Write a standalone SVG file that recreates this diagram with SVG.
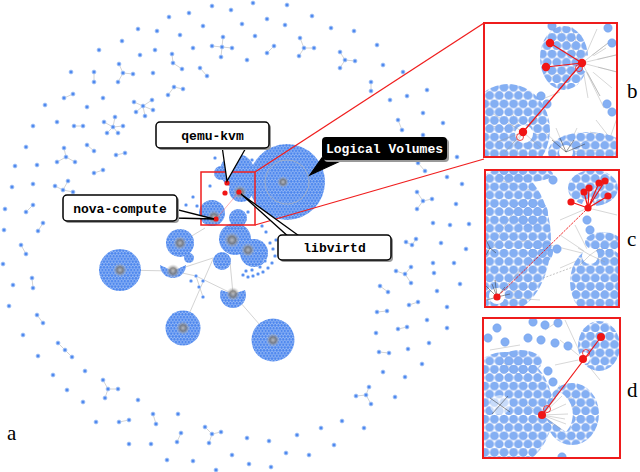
<svg xmlns="http://www.w3.org/2000/svg" width="640" height="472" viewBox="0 0 640 472">
<style>
.n{fill:#4f89ef;stroke:#b3cdf7;stroke-width:0.8}
.e{stroke:#c9c9c9;stroke-width:0.8;fill:none}
.ce{stroke:#d4d4d4;stroke-width:1;fill:none}
.cl{fill:url(#p1)}
.bc{fill:url(#pb)}
.pc{fill:#84aff3;stroke:#6e9ceb;stroke-width:0.5}
.sp{stroke:#9a9a9a;stroke-width:0.4;fill:none}
.dsp{stroke:#333;stroke-width:0.5;fill:none}
.red{fill:#f01616}
.rl{stroke:#f01616;stroke-width:1.2;fill:none}
.lbl{font-family:"Liberation Mono","DejaVu Sans Mono",monospace;font-weight:bold;font-size:13px;text-anchor:middle}
.let{font-family:"Liberation Serif","DejaVu Serif",serif;font-size:21px;fill:#000}
.box{fill:#fff;stroke:#000;stroke-width:1.5}
.shadow{fill:#9a9a9a}
.frame{fill:#fff;stroke:#ee1c1c;stroke-width:2}
</style>
<defs>
<pattern id="p1" patternUnits="userSpaceOnUse" width="3.2" height="5.54">
<rect width="3.2" height="5.54" fill="#a9c6f7"/>
<circle cx="1.6" cy="1.385" r="1.35" fill="#4a85ee"/>
<circle cx="0" cy="4.155" r="1.35" fill="#4a85ee"/>
<circle cx="3.2" cy="4.155" r="1.35" fill="#4a85ee"/>
</pattern>
<pattern id="pb" patternUnits="userSpaceOnUse" width="9.6" height="16.6">
<circle cx="4.8" cy="4.15" r="4.2" fill="#84aff3" stroke="#6e9ceb" stroke-width="0.5"/>
<circle cx="0" cy="12.45" r="4.2" fill="#84aff3" stroke="#6e9ceb" stroke-width="0.5"/>
<circle cx="9.6" cy="12.45" r="4.2" fill="#84aff3" stroke="#6e9ceb" stroke-width="0.5"/>
</pattern>
<radialGradient id="hub">
<stop offset="0" stop-color="#bbb" stop-opacity="0.9"/>
<stop offset="0.45" stop-color="#777" stop-opacity="0.85"/>
<stop offset="1" stop-color="#ccc" stop-opacity="0"/>
</radialGradient>
<clipPath id="cb"><rect x="484" y="23" width="133" height="134"/></clipPath>
<clipPath id="cc"><rect x="485" y="170" width="134" height="137"/></clipPath>
<clipPath id="cd"><rect x="483" y="318" width="137" height="140"/></clipPath>
</defs>
<rect width="640" height="472" fill="#fff"/>

<!-- scattered small components -->
<g id="scatter-edges">
<path class="e" d="M222,47L212,46M222,47L232,48M222,47L221,57M222,47L223,37M274,46L267,53M304,48L300,38M304,48L314,48M304,48L299,56M172,54L173,63L182,69M345,60L340,52M345,60L355,61M345,60L340,68M94,72L94,82M123,73L119,64M123,73L133,74M123,73L118,82M200,68L207,76M371,82L371,91M64,98L73,94M168,95L174,87L183,89M143,106L134,102M143,106L152,100M143,106L153,110M143,106L145,116M143,106L136,112M113,127L104,122M113,127L115,117M113,127L123,126M113,127L107,133M113,127L118,133M74,126L83,126M398,120L402,130M66,157L64,148M66,157L57,162M66,157L75,162M87,145L94,151M116,155L125,153M94,173L103,170M418,163L425,171M63,190L55,186M63,190L68,181M63,190L73,192M423,201L417,192M423,201L432,199M423,201L417,209M33,205L26,212M43,223L38,231"/>
<path class="e" d="M21,245L26,254M32,278L33,288M37,315L43,323M58,343L65,350L72,357M108,389L103,380M108,389L118,389M108,389L105,398M119,422L129,420M153,414L156,424M181,433L177,442M212,434L205,427M212,434L221,432M212,434L209,443M366,395L356,396M366,395L369,387M366,395L371,404M379,352L389,353M398,329L407,327M377,312L387,311M409,305L418,302M380,286L388,292M405,274L396,271M405,274L411,267M405,274L411,283M412,245L406,242M412,245L416,239"/>
</g>
<g id="scatter-nodes">
<circle class="n" cx="212" cy="6" r="2"/><circle class="n" cx="253" cy="3" r="2"/><circle class="n" cx="287" cy="5" r="2"/><circle class="n" cx="189" cy="13" r="2"/><circle class="n" cx="231" cy="10" r="2"/><circle class="n" cx="169" cy="17" r="2"/><circle class="n" cx="267" cy="19" r="2"/><circle class="n" cx="312" cy="16" r="2"/><circle class="n" cx="203" cy="26" r="2"/><circle class="n" cx="242" cy="24" r="2"/><circle class="n" cx="285" cy="25" r="2"/><circle class="n" cx="138" cy="29" r="2"/><circle class="n" cx="157" cy="31" r="2"/><circle class="n" cx="180" cy="35" r="2"/><circle class="n" cx="255" cy="36" r="2"/><circle class="n" cx="331" cy="28" r="2"/><circle class="n" cx="354" cy="31" r="2"/><circle class="n" cx="122" cy="41" r="2"/><circle class="n" cx="193" cy="48" r="2"/>
<circle class="n" cx="222" cy="47" r="2"/><circle class="n" cx="212" cy="46" r="2"/><circle class="n" cx="232" cy="48" r="2"/><circle class="n" cx="221" cy="57" r="2"/><circle class="n" cx="223" cy="37" r="2"/>
<circle class="n" cx="274" cy="46" r="2"/><circle class="n" cx="267" cy="53" r="2"/>
<circle class="n" cx="304" cy="48" r="2"/><circle class="n" cx="300" cy="38" r="2"/><circle class="n" cx="314" cy="48" r="2"/><circle class="n" cx="299" cy="56" r="2"/>
<circle class="n" cx="377" cy="45" r="2"/><circle class="n" cx="99" cy="50" r="2"/><circle class="n" cx="155" cy="50" r="2"/><circle class="n" cx="140" cy="55" r="2"/>
<circle class="n" cx="172" cy="54" r="2"/><circle class="n" cx="173" cy="63" r="2"/><circle class="n" cx="182" cy="69" r="2"/><circle class="n" cx="247" cy="60" r="2"/>
<circle class="n" cx="345" cy="60" r="2"/><circle class="n" cx="340" cy="52" r="2"/><circle class="n" cx="355" cy="61" r="2"/><circle class="n" cx="340" cy="68" r="2"/>
<circle class="n" cx="383" cy="65" r="2"/><circle class="n" cx="71" cy="72" r="2"/><circle class="n" cx="94" cy="72" r="2"/><circle class="n" cx="94" cy="82" r="2"/>
<circle class="n" cx="123" cy="73" r="2"/><circle class="n" cx="119" cy="64" r="2"/><circle class="n" cx="133" cy="74" r="2"/><circle class="n" cx="118" cy="82" r="2"/>
<circle class="n" cx="153" cy="73" r="2"/><circle class="n" cx="200" cy="68" r="2"/><circle class="n" cx="207" cy="76" r="2"/><circle class="n" cx="403" cy="72" r="2"/><circle class="n" cx="371" cy="82" r="2"/><circle class="n" cx="371" cy="91" r="2"/>
<circle class="n" cx="64" cy="98" r="2"/><circle class="n" cx="73" cy="94" r="2"/><circle class="n" cx="103" cy="98" r="2"/><circle class="n" cx="168" cy="95" r="2"/><circle class="n" cx="174" cy="87" r="2"/><circle class="n" cx="183" cy="89" r="2"/>
<circle class="n" cx="143" cy="106" r="2"/><circle class="n" cx="134" cy="102" r="2"/><circle class="n" cx="152" cy="100" r="2"/><circle class="n" cx="153" cy="110" r="2"/><circle class="n" cx="145" cy="116" r="2"/><circle class="n" cx="136" cy="112" r="2"/>
<circle class="n" cx="427" cy="90" r="2"/><circle class="n" cx="390" cy="100" r="2"/><circle class="n" cx="407" cy="96" r="2"/><circle class="n" cx="45" cy="105" r="2"/><circle class="n" cx="87" cy="107" r="2"/><circle class="n" cx="423" cy="113" r="2"/>
<circle class="n" cx="113" cy="127" r="2"/><circle class="n" cx="104" cy="122" r="2"/><circle class="n" cx="115" cy="117" r="2"/><circle class="n" cx="123" cy="126" r="2"/><circle class="n" cx="107" cy="133" r="2"/><circle class="n" cx="118" cy="133" r="2"/>
<circle class="n" cx="57" cy="122" r="2"/><circle class="n" cx="74" cy="126" r="2"/><circle class="n" cx="83" cy="126" r="2"/><circle class="n" cx="33" cy="126" r="2"/><circle class="n" cx="398" cy="120" r="2"/><circle class="n" cx="402" cy="130" r="2"/><circle class="n" cx="443" cy="123" r="2"/><circle class="n" cx="423" cy="135" r="2"/><circle class="n" cx="26" cy="147" r="2"/>
<circle class="n" cx="66" cy="157" r="2"/><circle class="n" cx="64" cy="148" r="2"/><circle class="n" cx="57" cy="162" r="2"/><circle class="n" cx="75" cy="162" r="2"/>
<circle class="n" cx="87" cy="145" r="2"/><circle class="n" cx="94" cy="151" r="2"/><circle class="n" cx="116" cy="155" r="2"/><circle class="n" cx="125" cy="153" r="2"/><circle class="n" cx="15" cy="166" r="2"/><circle class="n" cx="37" cy="165" r="2"/><circle class="n" cx="94" cy="173" r="2"/><circle class="n" cx="103" cy="170" r="2"/><circle class="n" cx="457" cy="157" r="2"/><circle class="n" cx="418" cy="163" r="2"/><circle class="n" cx="425" cy="171" r="2"/><circle class="n" cx="447" cy="177" r="2"/><circle class="n" cx="12" cy="187" r="2"/><circle class="n" cx="33" cy="184" r="2"/>
<circle class="n" cx="63" cy="190" r="2"/><circle class="n" cx="55" cy="186" r="2"/><circle class="n" cx="68" cy="181" r="2"/><circle class="n" cx="73" cy="192" r="2"/><circle class="n" cx="462" cy="184" r="2"/>
<circle class="n" cx="423" cy="201" r="2"/><circle class="n" cx="417" cy="192" r="2"/><circle class="n" cx="432" cy="199" r="2"/><circle class="n" cx="417" cy="209" r="2"/>
<circle class="n" cx="456" cy="204" r="2"/><circle class="n" cx="5" cy="209" r="2"/><circle class="n" cx="33" cy="205" r="2"/><circle class="n" cx="26" cy="212" r="2"/><circle class="n" cx="43" cy="223" r="2"/><circle class="n" cx="38" cy="231" r="2"/><circle class="n" cx="433" cy="223" r="2"/><circle class="n" cx="450" cy="225" r="2"/><circle class="n" cx="469" cy="224" r="2"/><circle class="n" cx="4" cy="230" r="2"/>
<circle class="n" cx="21" cy="245" r="2"/><circle class="n" cx="26" cy="254" r="2"/><circle class="n" cx="3" cy="264" r="2"/><circle class="n" cx="32" cy="278" r="2"/><circle class="n" cx="33" cy="288" r="2"/><circle class="n" cx="13" cy="285" r="2"/><circle class="n" cx="9" cy="306" r="2"/><circle class="n" cx="37" cy="315" r="2"/><circle class="n" cx="43" cy="323" r="2"/><circle class="n" cx="23" cy="335" r="2"/>
<circle class="n" cx="58" cy="343" r="2"/><circle class="n" cx="65" cy="350" r="2"/><circle class="n" cx="72" cy="357" r="2"/><circle class="n" cx="38" cy="356" r="2"/><circle class="n" cx="53" cy="375" r="2"/><circle class="n" cx="85" cy="371" r="2"/><circle class="n" cx="67" cy="390" r="2"/>
<circle class="n" cx="108" cy="389" r="2"/><circle class="n" cx="103" cy="380" r="2"/><circle class="n" cx="118" cy="389" r="2"/><circle class="n" cx="105" cy="398" r="2"/>
<circle class="n" cx="83" cy="402" r="2"/><circle class="n" cx="138" cy="400" r="2"/><circle class="n" cx="96" cy="422" r="2"/><circle class="n" cx="119" cy="422" r="2"/><circle class="n" cx="129" cy="420" r="2"/><circle class="n" cx="153" cy="414" r="2"/><circle class="n" cx="156" cy="424" r="2"/><circle class="n" cx="178" cy="414" r="2"/><circle class="n" cx="181" cy="433" r="2"/><circle class="n" cx="177" cy="442" r="2"/><circle class="n" cx="129" cy="444" r="2"/><circle class="n" cx="151" cy="444" r="2"/>
<circle class="n" cx="212" cy="434" r="2"/><circle class="n" cx="205" cy="427" r="2"/><circle class="n" cx="221" cy="432" r="2"/><circle class="n" cx="209" cy="443" r="2"/>
<circle class="n" cx="167" cy="460" r="2"/><circle class="n" cx="193" cy="461" r="2"/><circle class="n" cx="216" cy="470" r="2"/><circle class="n" cx="247" cy="438" r="2"/><circle class="n" cx="269" cy="441" r="2"/><circle class="n" cx="232" cy="455" r="2"/><circle class="n" cx="249" cy="464" r="2"/><circle class="n" cx="271" cy="467" r="2"/><circle class="n" cx="286" cy="453" r="2"/><circle class="n" cx="297" cy="435" r="2"/><circle class="n" cx="309" cy="455" r="2"/><circle class="n" cx="321" cy="428" r="2"/><circle class="n" cx="334" cy="445" r="2"/><circle class="n" cx="342" cy="421" r="2"/><circle class="n" cx="364" cy="428" r="2"/>
<circle class="n" cx="366" cy="395" r="2"/><circle class="n" cx="356" cy="396" r="2"/><circle class="n" cx="369" cy="387" r="2"/><circle class="n" cx="371" cy="404" r="2"/>
<circle class="n" cx="395" cy="397" r="2"/><circle class="n" cx="383" cy="372" r="2"/><circle class="n" cx="405" cy="377" r="2"/><circle class="n" cx="422" cy="364" r="2"/><circle class="n" cx="379" cy="352" r="2"/><circle class="n" cx="389" cy="353" r="2"/><circle class="n" cx="408" cy="349" r="2"/><circle class="n" cx="429" cy="343" r="2"/><circle class="n" cx="376" cy="333" r="2"/><circle class="n" cx="398" cy="329" r="2"/><circle class="n" cx="407" cy="327" r="2"/><circle class="n" cx="427" cy="320" r="2"/><circle class="n" cx="447" cy="328" r="2"/><circle class="n" cx="377" cy="312" r="2"/><circle class="n" cx="387" cy="311" r="2"/><circle class="n" cx="409" cy="305" r="2"/><circle class="n" cx="418" cy="302" r="2"/><circle class="n" cx="447" cy="307" r="2"/><circle class="n" cx="380" cy="286" r="2"/><circle class="n" cx="388" cy="292" r="2"/><circle class="n" cx="437" cy="291" r="2"/><circle class="n" cx="460" cy="284" r="2"/>
<circle class="n" cx="405" cy="274" r="2"/><circle class="n" cx="396" cy="271" r="2"/><circle class="n" cx="411" cy="267" r="2"/><circle class="n" cx="411" cy="283" r="2"/>
<circle class="n" cx="433" cy="263" r="2"/><circle class="n" cx="434" cy="273" r="2"/><circle class="n" cx="454" cy="263" r="2"/><circle class="n" cx="466" cy="249" r="2"/><circle class="n" cx="441" cy="243" r="2"/><circle class="n" cx="412" cy="245" r="2"/><circle class="n" cx="406" cy="242" r="2"/><circle class="n" cx="416" cy="239" r="2"/>
</g>

<!-- central graph -->
<g id="cluster-edges">
<path class="ce" d="M120,270L173,271M173,271L213,258M183,328L213,259M233,294L230,262M233,294L273,340M180,243L205,228M173,271L196,276L233,294M196,276L203,297"/>
</g>
<g id="clusters">
<circle class="cl" cx="120" cy="270" r="21"/><circle cx="120" cy="270" r="7" fill="url(#hub)"/>
<circle class="cl" cx="183" cy="328" r="17.5"/><circle cx="183" cy="328" r="7" fill="url(#hub)"/>
<circle class="cl" cx="273" cy="340" r="21.5"/><circle cx="273" cy="340" r="7" fill="url(#hub)"/>
<circle class="cl" cx="180" cy="243" r="14"/><circle cx="180" cy="243" r="7" fill="url(#hub)"/>
<path class="cl" d="M160,265A13,13 0 1 0 186,265L173,271Z"/><circle cx="173" cy="271" r="7" fill="url(#hub)"/>
<path class="cl" d="M221,290A13,13 0 1 0 245,290L233,294Z"/><circle cx="233" cy="294" r="7" fill="url(#hub)"/>
<circle class="cl" cx="189" cy="258" r="5"/>
<circle class="cl" cx="222" cy="261" r="9"/>
<circle class="cl" cx="235" cy="239" r="16"/><circle cx="232" cy="240" r="8" fill="url(#hub)"/>
<circle class="cl" cx="254" cy="253" r="14"/><circle cx="248" cy="250" r="7" fill="url(#hub)"/>
<circle class="cl" cx="238" cy="218" r="9"/>
<circle class="cl" cx="212" cy="213" r="13"/><circle cx="214" cy="217" r="7" fill="url(#hub)"/>
<circle class="cl" cx="237" cy="171" r="17"/>
<circle class="cl" cx="221" cy="173" r="7"/>
<circle class="cl" cx="241" cy="190" r="12"/><circle cx="240" cy="192" r="7" fill="url(#hub)"/>
<circle class="cl" cx="287" cy="182" r="38"/>
<circle cx="287" cy="182" r="22" fill="none" stroke="#b5b5b5" stroke-width="1" opacity="0.7"/>
<circle cx="283" cy="182" r="6" fill="url(#hub)"/>
<circle class="n" cx="243" cy="275" r="1.6"/><circle class="n" cx="248" cy="277" r="1.6"/><circle class="n" cx="253" cy="276" r="1.6"/><circle class="n" cx="258" cy="274" r="1.6"/><circle class="n" cx="263" cy="272" r="1.6"/><circle class="n" cx="268" cy="268" r="1.6"/><circle class="n" cx="272" cy="263" r="1.6"/><circle class="n" cx="275" cy="256" r="1.6"/><circle class="n" cx="273" cy="249" r="1.6"/><circle class="n" cx="270" cy="243" r="1.6"/><circle class="n" cx="276" cy="240" r="1.6"/><circle class="n" cx="265" cy="261" r="1.6"/><circle class="n" cx="260" cy="267" r="1.6"/><circle class="n" cx="252" cy="270" r="1.6"/><circle class="n" cx="246" cy="271" r="1.6"/><circle class="n" cx="266" cy="232" r="1.6"/><circle class="n" cx="262" cy="226" r="1.6"/>
<circle class="n" cx="196" cy="276" r="1.6"/><circle class="n" cx="203" cy="281" r="1.6"/><circle class="n" cx="199" cy="287" r="1.6"/><circle class="n" cx="203" cy="297" r="1.6"/><circle class="n" cx="191" cy="281" r="1.6"/>
<circle class="n" cx="193" cy="197" r="1.6"/><circle class="n" cx="197" cy="206" r="1.6"/><circle class="n" cx="186" cy="205" r="1.6"/><circle class="n" cx="210" cy="186" r="1.6"/><circle class="n" cx="215" cy="158" r="1.6"/><circle class="n" cx="252" cy="160" r="1.6"/><circle class="n" cx="248" cy="212" r="1.6"/>
</g>
<g id="highlighted-nodes">
<line x1="239" y1="192" x2="216" y2="219" stroke="#f77" stroke-width="0.8" opacity="0.7"/>
<circle class="red" cx="227" cy="183" r="2.6"/>
<circle class="red" cx="225" cy="193" r="2.6"/>
<circle class="red" cx="239" cy="192" r="2.6"/>
<circle class="red" cx="216" cy="219" r="2.6"/>
</g>

<!-- zoom connectors -->
<g id="connectors">
<rect x="201" y="172" width="54" height="53" fill="none" stroke="#f01e1e" stroke-width="1.5"/>
<line x1="255" y1="172" x2="484" y2="23" stroke="#f01e1e" stroke-width="1.3"/>
<line x1="255" y1="225" x2="484" y2="159" stroke="#f01e1e" stroke-width="1.3"/>
<polygon points="222,146 247,146 227,181" fill="#fff" stroke="#000" stroke-width="1.3"/>
<polygon points="175,209 175,218 214,219" fill="#fff" stroke="#000" stroke-width="1.3"/>
<polygon points="290,238 302,238 241,194" fill="#fff" stroke="#000" stroke-width="1.3"/>
<polygon points="322,158 347,158 310,175" fill="#000" stroke="#000" stroke-width="1.3"/>
</g>

<!-- labels -->
<g id="label-qemu-kvm">
<rect class="shadow" x="158" y="124" width="113" height="26" rx="4"/>
<rect class="box" x="156" y="122" width="113" height="26" rx="4"/>
<text class="lbl" x="212.5" y="139.5">qemu-kvm</text>
</g>
<g id="label-nova-compute">
<rect class="shadow" x="65" y="197" width="114" height="26" rx="4"/>
<rect class="box" x="63" y="195" width="114" height="26" rx="4"/>
<text class="lbl" x="120" y="212.5">nova-compute</text>
</g>
<g id="label-libvirtd">
<rect class="shadow" x="280" y="237" width="113" height="25" rx="4"/>
<rect class="box" x="278" y="235" width="113" height="25" rx="4"/>
<text class="lbl" x="334.5" y="251.5">libvirtd</text>
</g>
<g id="label-logical-volumes">
<rect class="shadow" x="324" y="139" width="125" height="23" rx="4"/>
<rect x="322" y="137" width="125" height="23" rx="4" fill="#000"/>
<text class="lbl" x="384.5" y="153" fill="#fff">Logical Volumes</text>
</g>

<!-- panel b -->
<g id="panel-b">
<rect class="frame" x="484" y="23" width="133" height="134"/>
<g clip-path="url(#cb)">
<path class="sp" d="M582,63L612,40M582,63L616,55M582,63L617,72M582,63L612,88M582,63L600,96M582,63L588,98M582,63L560,30M582,63L572,27M582,63L597,29M582,63L606,48M582,63L550,78M582,63L604,108M523,132L490,112M523,132L492,126M523,132L497,142M523,132L505,152M523,132L516,156M523,132L532,156M523,132L541,148M523,132L546,136M523,132L537,118M523,132L510,110M566,152L545,132M566,152L556,128M566,152L577,128M566,152L592,138M566,152L602,150M610,138L596,120M610,138L590,132M610,138L617,118M540,100L560,92"/>
<ellipse class="bc" cx="564" cy="58" rx="24" ry="32"/>
<circle cx="590" cy="64" r="9" fill="#fff"/>
<path class="sp" d="M582,63L612,40M582,63L616,55M582,63L617,72M582,63L600,96"/>
<ellipse class="bc" cx="508" cy="130" rx="42" ry="46"/>
<circle cx="524" cy="134" r="9" fill="#fff"/>
<path class="sp" d="M523,132L497,142M523,132L505,152M523,132L541,148M523,132L537,118M523,132L510,124M523,132L515,146"/>
<ellipse class="bc" cx="588" cy="152" rx="40" ry="20"/>
<circle cx="566" cy="152" r="7" fill="#fff"/>
<path class="dsp" d="M566,152L552,140M566,152L560,138M566,152L574,140M566,152L585,144"/>
<circle class="pc" cx="608" cy="28" r="4.2"/><circle class="pc" cx="612" cy="43" r="4.2"/><circle class="pc" cx="547" cy="104" r="4.2"/><circle class="pc" cx="541" cy="96" r="4.2"/><circle class="pc" cx="607" cy="104" r="4.2"/><circle class="pc" cx="612" cy="112" r="4.2"/><circle class="pc" cx="552" cy="26" r="4.2"/>
<path class="rl" d="M582,63L550,43M582,63L546,67M582,63L523,132"/>
<circle cx="579" cy="68" r="3.5" fill="none" stroke="#f01616" stroke-width="0.8"/>
<circle cx="520" cy="137" r="3.5" fill="none" stroke="#f01616" stroke-width="0.8"/>
<circle class="red" cx="582" cy="63" r="4.2"/>
<circle class="red" cx="550" cy="43" r="4.2"/>
<circle class="red" cx="546" cy="67" r="4.2"/>
<circle class="red" cx="523" cy="132" r="4.2"/>
</g>
<rect x="484" y="23" width="133" height="134" fill="none" stroke="#ee1c1c" stroke-width="2"/>
</g>

<!-- panel c -->
<g id="panel-c">
<rect class="frame" x="485" y="170" width="134" height="137"/>
<g clip-path="url(#cc)">
<path class="sp" d="M497,297L520,270M497,297L535,285M497,297L540,300M497,297L530,260M490,248L520,230M490,248L530,240M490,248L515,210M588,208L615,195M588,208L617,215M588,208L560,220M590,255L550,245M590,255L560,235M590,255L560,268M590,255L617,240M590,255L617,262M590,255L575,225M505,200L540,230M500,180L530,190"/>
<path d="M530,283L573,267" stroke="#aaa" stroke-width="0.7" stroke-dasharray="2 1.5"/>
<ellipse class="bc" cx="505" cy="240" rx="46" ry="72"/>
<ellipse class="bc" cx="525" cy="174" rx="28" ry="8"/>
<ellipse class="bc" cx="530" cy="213" rx="18" ry="15"/>
<ellipse class="bc" cx="540" cy="252" rx="13" ry="12"/>
<circle cx="497" cy="296" r="8" fill="#fff"/>
<path class="dsp" d="M497,297L486,286M497,297L505,287M497,297L487,300M497,297L510,294M497,297L492,284M497,297L495,280M490,248L486,240M490,248L496,253M490,248L486,255" stroke-width="0.8"/>
<ellipse class="bc" cx="593" cy="188" rx="25" ry="18"/>
<circle cx="588" cy="205" r="6" fill="#fff"/>
<ellipse class="bc" cx="600" cy="282" rx="30" ry="36"/>
<ellipse class="bc" cx="603" cy="242" rx="18" ry="10"/>
<circle cx="590" cy="256" r="8" fill="#fff"/>
<path class="sp" d="M590,255L578,248M590,255L600,248M590,255L605,262M590,255L580,265"/>
<circle class="pc" cx="547" cy="247" r="4.2"/><circle class="pc" cx="557" cy="249" r="4.2"/><circle class="pc" cx="587" cy="220" r="4.2"/><circle class="pc" cx="590" cy="230" r="4.2"/><circle class="pc" cx="553" cy="180" r="4.2"/>
<path class="rl" d="M588,208L571,202M588,208L584,192M588,208L589,188M588,208L599,183M588,208L605,181M588,208L608,196"/>
<path d="M588,208L497,297" stroke="#f01616" stroke-width="0.9" stroke-dasharray="2.5 1"/>
<circle class="red" cx="588" cy="208" r="3.6"/>
<circle class="red" cx="571" cy="202" r="3.6"/>
<circle class="red" cx="584" cy="192" r="3.6"/>
<circle class="red" cx="589" cy="188" r="3.6"/>
<circle class="red" cx="599" cy="183" r="3.6"/>
<circle class="red" cx="605" cy="181" r="3.6"/>
<circle class="red" cx="608" cy="196" r="3.6"/>
<circle class="red" cx="497" cy="297" r="3.6"/>
</g>
<rect x="485" y="170" width="134" height="137" fill="none" stroke="#ee1c1c" stroke-width="2"/>
</g>

<!-- panel d -->
<g id="panel-d">
<rect class="frame" x="483" y="318" width="137" height="140"/>
<g clip-path="url(#cd)">
<path class="sp" d="M542,415L575,395M542,415L580,405M542,415L582,418M542,415L578,430M542,415L570,440M542,415L560,385M542,415L520,400M542,415L525,430M583,359L560,340M583,359L565,320M583,359L600,380M583,359L555,365M545,330L560,320M500,360L525,380M490,350L520,345"/>
<ellipse class="bc" cx="505" cy="410" rx="48" ry="58"/>
<ellipse class="bc" cx="520" cy="362" rx="22" ry="12"/>
<circle cx="500" cy="405" r="10" fill="#fff" opacity="0.55"/>
<path class="dsp" d="M500,405L490,398M500,405L508,396M500,405L492,414M500,405L510,412" stroke="#777"/>
<ellipse class="bc" cx="599" cy="346" rx="21" ry="25"/>
<circle cx="584" cy="358" r="6" fill="#fff"/>
<ellipse class="bc" cx="572" cy="414" rx="27" ry="31"/>
<path d="M542,415L560,392A26,26 0 0 1 566,432Z" fill="#fff"/>
<path class="sp" d="M542,415L562,396M542,415L566,404M542,415L568,414M542,415L566,424M542,415L562,430M542,415L556,398M542,415L565,419"/>
<circle class="pc" cx="533" cy="322" r="4.2"/><circle class="pc" cx="545" cy="325" r="4.2"/><circle class="pc" cx="558" cy="323" r="4.2"/><circle class="pc" cx="541" cy="340" r="4.2"/><circle class="pc" cx="555" cy="343" r="4.2"/><circle class="pc" cx="568" cy="346" r="4.2"/><circle class="pc" cx="528" cy="338" r="4.2"/><circle class="pc" cx="548" cy="371" r="4.2"/><circle class="pc" cx="553" cy="382" r="4.2"/><circle class="pc" cx="497" cy="328" r="4.2"/><circle class="pc" cx="505" cy="342" r="4.2"/><circle class="pc" cx="488" cy="338" r="4.2"/><circle class="pc" cx="562" cy="457" r="4.2"/>
<path class="rl" d="M601,337L542,415"/>
<circle cx="586" cy="353" r="3.5" fill="none" stroke="#f01616" stroke-width="0.8"/>
<circle cx="547" cy="409" r="3.5" fill="none" stroke="#f01616" stroke-width="0.8"/>
<circle class="red" cx="601" cy="337" r="4"/>
<circle class="red" cx="583" cy="359" r="4"/>
<circle class="red" cx="542" cy="415" r="4"/>
</g>
<rect x="483" y="318" width="137" height="140" fill="none" stroke="#ee1c1c" stroke-width="2"/>
</g>

<g id="panel-letters">
<text class="let" x="7" y="440">a</text>
<text class="let" x="627" y="98">b</text>
<text class="let" x="627" y="246">c</text>
<text class="let" x="627" y="397">d</text>
</g>
</svg>
